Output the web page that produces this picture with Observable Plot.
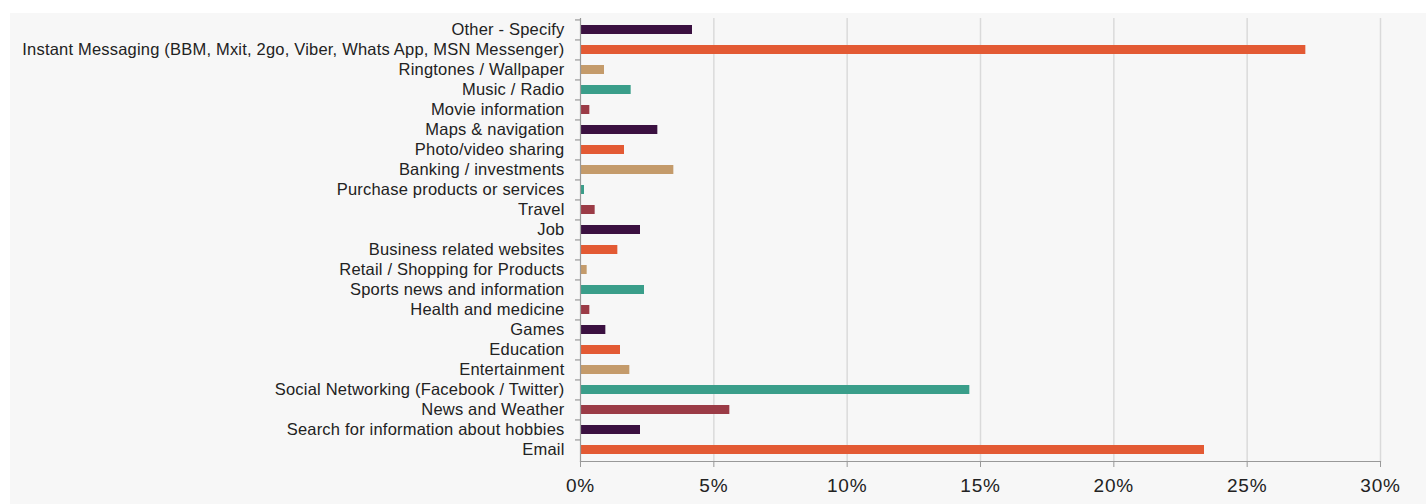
<!DOCTYPE html>
<html>
<head>
<meta charset="utf-8">
<script src="https://cdn.jsdelivr.net/npm/d3@7"></script>
<script src="https://cdn.jsdelivr.net/npm/@observablehq/plot@0.6"></script>
<style>
  html, body { margin: 0; padding: 0; background: #ffffff; }
  #chart { position: absolute; left: 10px; top: 13px; width: 1416px; height: 491px; background: #f7f7f7; }
  #chart g[aria-label="y-axis tick label"] text { letter-spacing: 0.2px; }
  #chart g[aria-label="x-axis tick label"] text { letter-spacing: 0.8px; }
</style>
</head>
<body>
<div id="chart"></div>
<script>
const categories = [
  "Other - Specify",
  "Instant Messaging (BBM, Mxit, 2go, Viber, Whats App, MSN Messenger)",
  "Ringtones / Wallpaper",
  "Music / Radio",
  "Movie information",
  "Maps & navigation",
  "Photo/video sharing",
  "Banking / investments",
  "Purchase products or services",
  "Travel",
  "Job",
  "Business related websites",
  "Retail / Shopping for Products",
  "Sports news and information",
  "Health and medicine",
  "Games",
  "Education",
  "Entertainment",
  "Social Networking (Facebook / Twitter)",
  "News and Weather",
  "Search for information about hobbies",
  "Email"
];
const values = [4.2, 27.2, 0.9, 1.9, 0.35, 2.9, 1.65, 3.5, 0.15, 0.55, 2.25, 1.4, 0.25, 2.4, 0.35, 0.95, 1.5, 1.85, 14.6, 5.6, 2.25, 23.4];
const palette = ["#3b1141", "#e35a34", "#c49b6b", "#3a9e8a", "#9b3b46"];
const xTicks = [0, 5, 10, 15, 20, 25, 30];

const data = categories.map((c, i) => ({category: c, value: values[i]}));

const W = 1416, H = 491, mL = 570, mR = 46, mT = 5, mB = 43;
const step = (H - mT - mB) / categories.length;
const plotW = W - mL - mR;

const chart = Plot.plot({
  width: W,
  height: H,
  marginLeft: mL,
  marginRight: mR,
  marginTop: mT,
  marginBottom: mB,
  style: {background: "transparent", fontFamily: "'Liberation Sans', Arial, sans-serif", color: "#222"},
  x: {domain: [0, 30], label: null},
  y: {domain: categories, paddingInner: 0.55, paddingOuter: 0.275, label: null},
  color: {domain: categories, range: categories.map((_, i) => palette[i % palette.length])},
  marks: [
    Plot.gridX(xTicks.slice(1), {stroke: "#dadada", strokeOpacity: 1, strokeWidth: 1.5}),
    Plot.barX(data, {y: "category", x: "value", fill: "category"}),
    Plot.ruleY(categories, {y: d => d, dy: -step / 2, insetLeft: -5, insetRight: plotW, stroke: "#999", strokeWidth: 1.2}),
    Plot.frame({anchor: "left", stroke: "#999", strokeWidth: 1.2}),
    Plot.frame({anchor: "bottom", stroke: "#999", strokeWidth: 1.2}),
    Plot.axisY({tickSize: 0, tickPadding: 16, fontSize: 16.5, label: null}),
    Plot.axisX(xTicks, {tickSize: 6, tickPadding: 11, fontSize: 19, stroke: "#999", tickFormat: d => d + "%", label: null})
  ]
});
document.getElementById("chart").appendChild(chart);
</script>
</body>
</html>
